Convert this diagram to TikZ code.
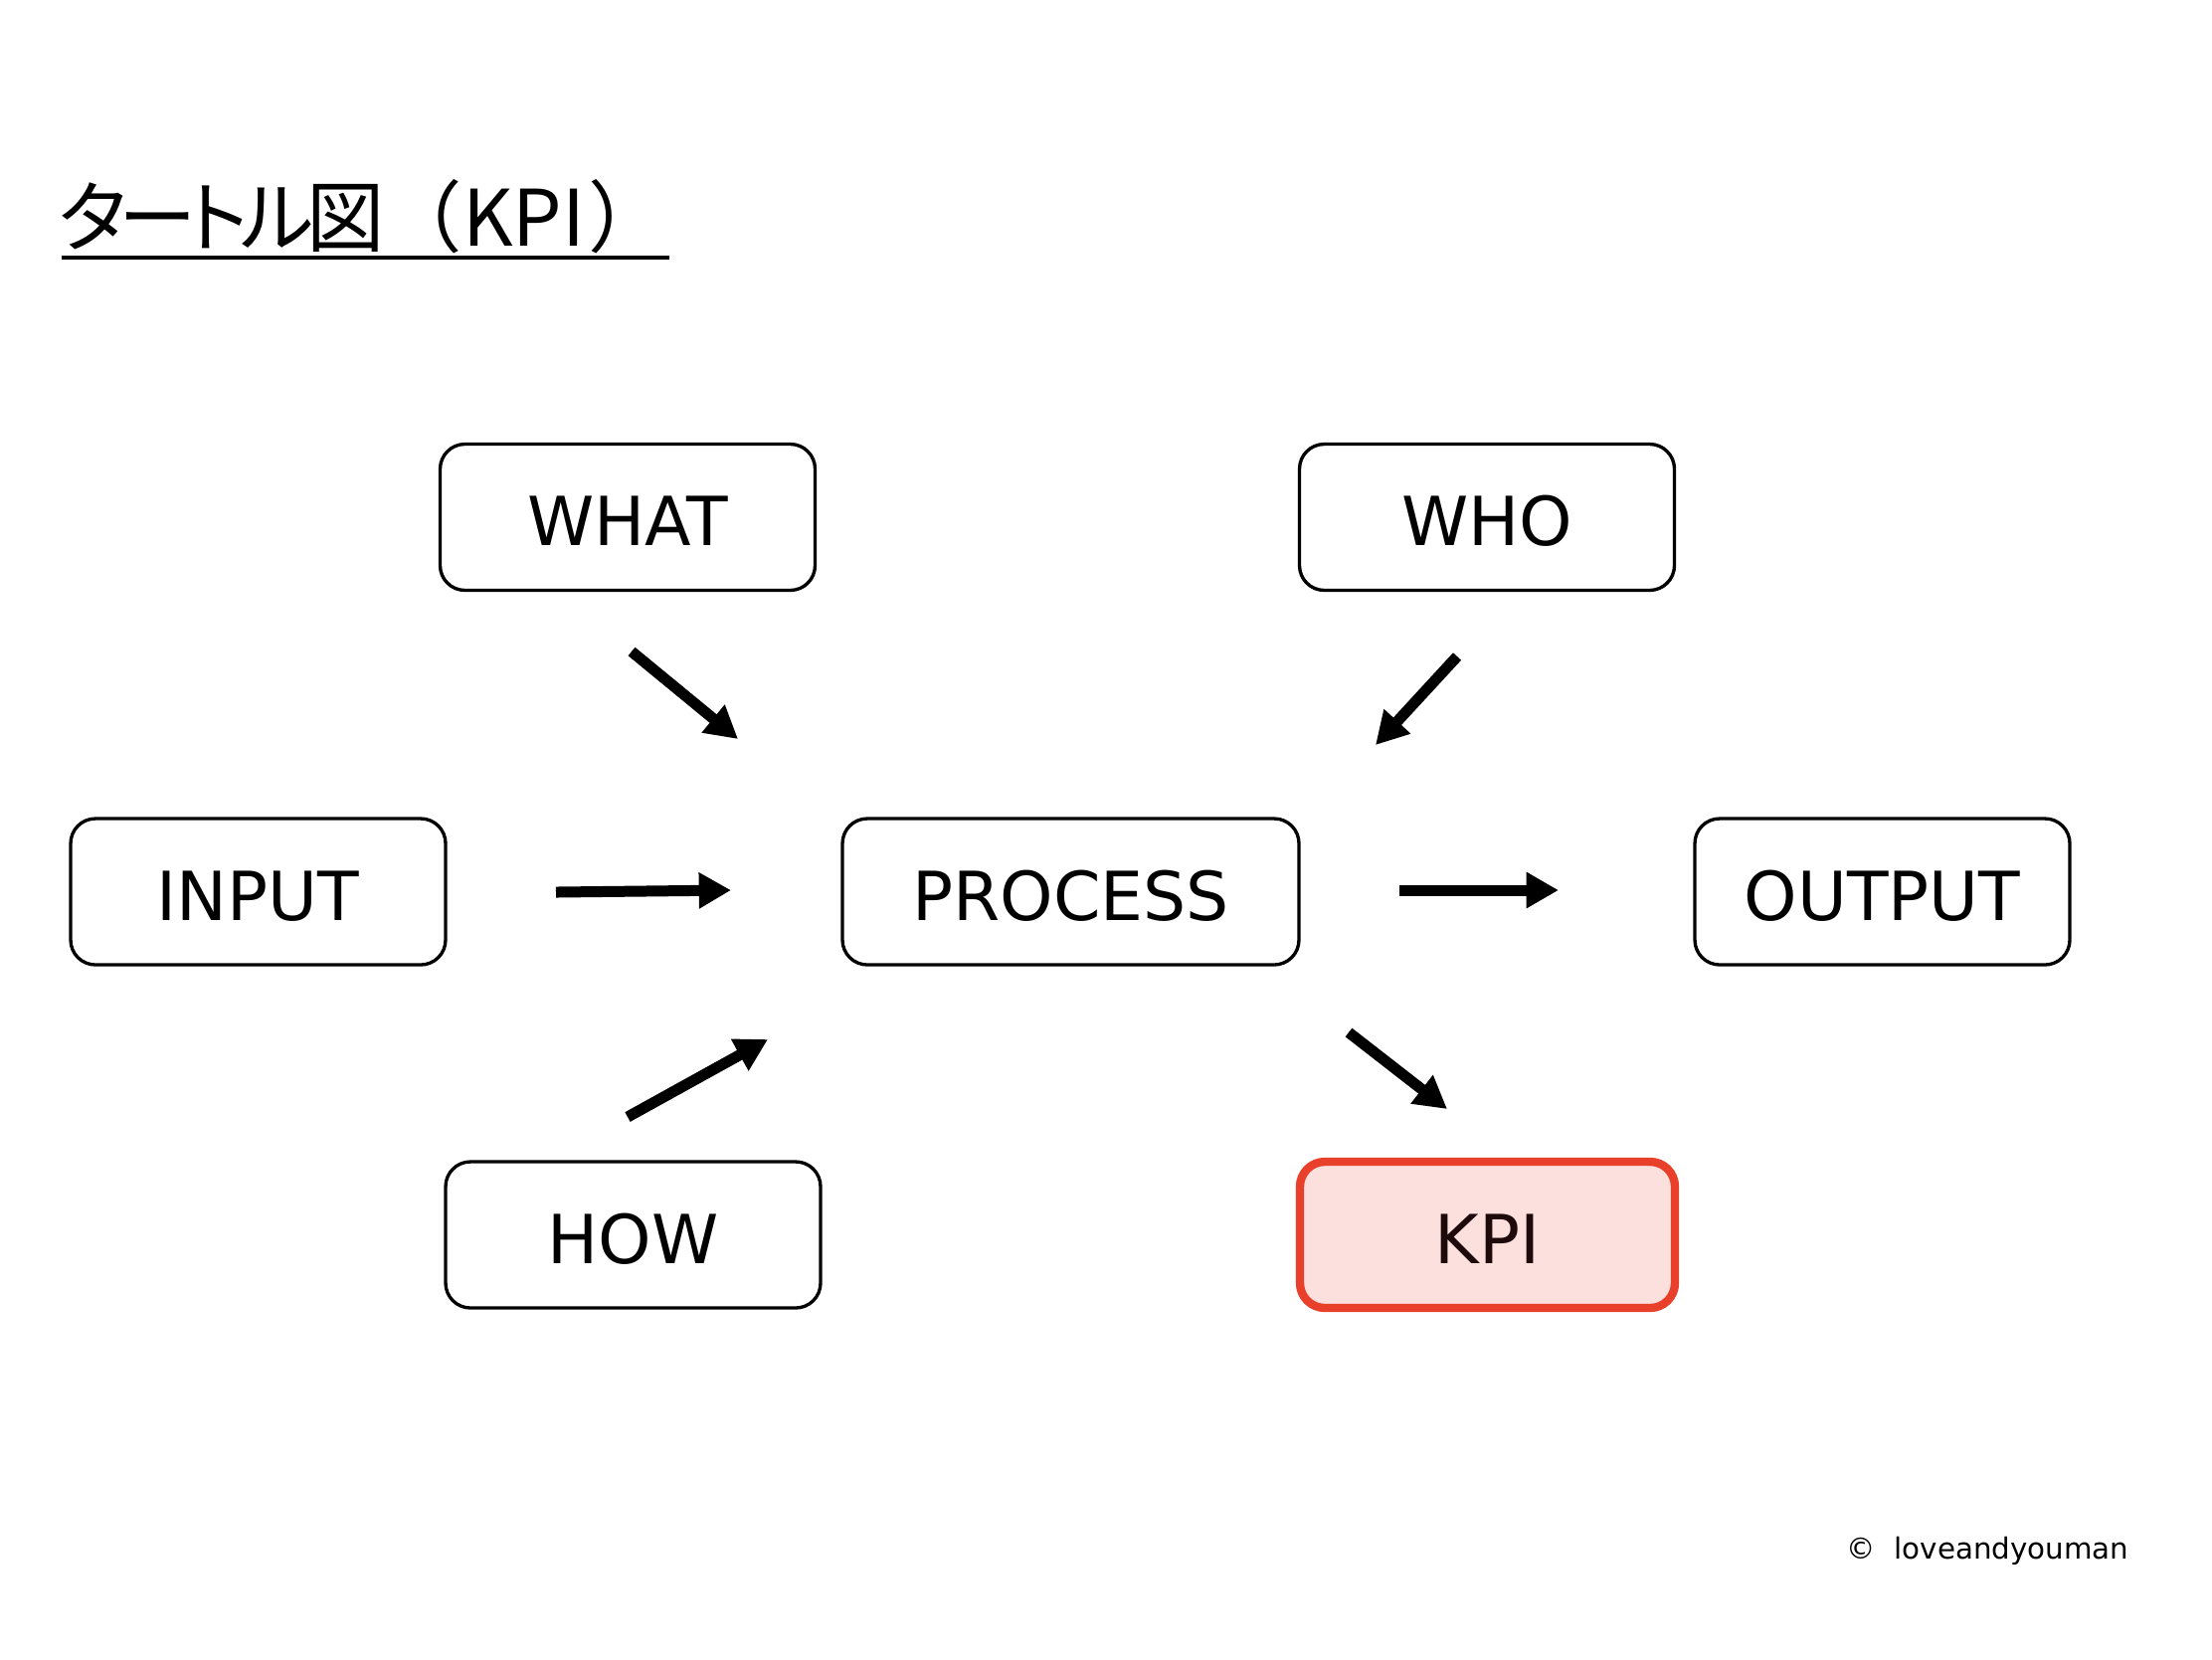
\documentclass[tikz,border=0pt]{standalone}
\usepackage{fontspec}
\setmainfont{DejaVu Sans}
\newfontfamily\cjkp[RawFeature=+palt]{Noto Sans CJK JP}
\newfontfamily\cjk{Noto Sans CJK JP}
\usetikzlibrary{arrows.meta}
\definecolor{kpired}{HTML}{E8402A}
\definecolor{kpifill}{HTML}{FBE0DD}
\definecolor{kpitext}{HTML}{1E0A0A}
\begin{document}
\begin{tikzpicture}[x=0.3pt,y=-0.3pt,
  box/.style={draw=black, line width=1pt, rounded corners=7.5pt, fill=white,
    minimum width=113.1pt, minimum height=44.1pt, inner sep=0pt,
    text height=17.3pt, text depth=0pt,
    font=\fontsize{20.4}{24}\selectfont},
  kpibox/.style={box, draw=kpired, line width=2.5pt, fill=kpifill, text=kpitext},
  bigarrow/.style={line width=3.3pt, -{Triangle[length=9.7pt,width=10.3pt]}}
]
\useasboundingbox (0,0) rectangle (2224,1668);
\fill[white] (0,0) rectangle (2224,1668);
% title
\node[anchor=base west, inner sep=0pt, font=\fontsize{23.5}{28}\selectfont] (title) at (58,247)
  {\cjkp タ\kern-2.2pt ー\kern-2.2pt ト\kern-2.2pt ル\kern-2.2pt 図\cjk （KPI\kern1pt ）};
\coordinate (ul1) at (62,259);
\coordinate (ul2) at (673,259);
\draw[line width=1.2pt] (ul1) -- (ul2);
% boxes
\node[box] (what) at (631,520) {WHAT};
\node[box] (who) at (1495,520) {WHO};
\node[box] (input) at (259.5,896.5) {INPUT};
\node[box, minimum width=137.7pt] (process) at (1076.5,896.5) {PROCESS};
\node[box] (output) at (1892.5,896.5) {OUTPUT};
\node[box] (how) at (636.5,1241.5) {HOW};
\node[kpibox] (kpi) at (1495.5,1241.5) {KPI};
% arrow endpoints
\coordinate (a1s) at (635,655); \coordinate (a1e) at (742,743);
\coordinate (a2s) at (1465,660); \coordinate (a2e) at (1383,749);
\coordinate (a3s) at (559,897); \coordinate (a3e) at (735,895);
\coordinate (a4s) at (1407,895); \coordinate (a4e) at (1567,895);
\coordinate (a5s) at (631,1123); \coordinate (a5e) at (772,1045);
\coordinate (a6s) at (1356,1038); \coordinate (a6e) at (1455,1115);
\draw[bigarrow] (a1s) -- (a1e);
\draw[bigarrow] (a2s) -- (a2e);
\draw[bigarrow] (a3s) -- (a3e);
\draw[bigarrow] (a4s) -- (a4e);
\draw[bigarrow] (a5s) -- (a5e);
\draw[bigarrow] (a6s) -- (a6e);
% copyright
\node[anchor=base west, inner sep=0pt, font=\fontsize{8.8}{10}\selectfont] (copy) at (1856,1567) {©\ \ loveandyouman};
\end{tikzpicture}
\end{document}
